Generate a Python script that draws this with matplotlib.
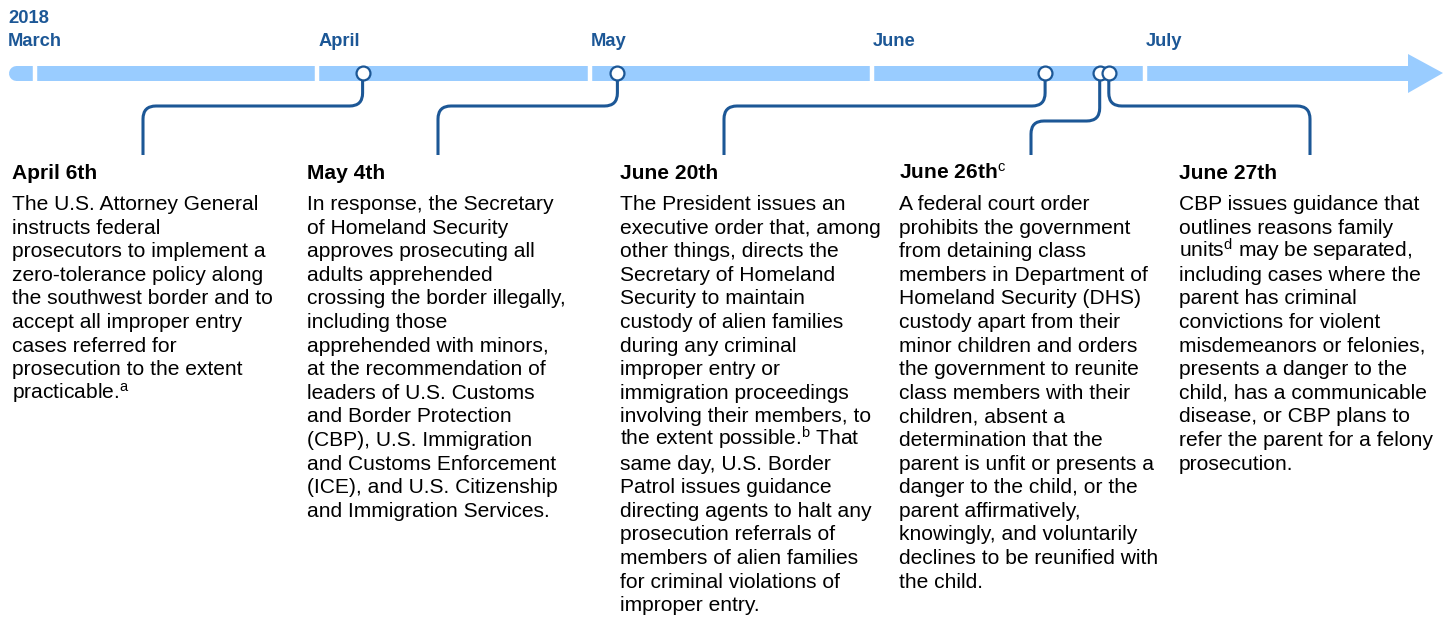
import datetime as dt
import matplotlib.pyplot as plt
import matplotlib.dates as mdates
from matplotlib.path import Path
from matplotlib.patches import PathPatch, Polygon

plt.rcParams['font.family'] = ['Liberation Sans', 'DejaVu Sans']
plt.rcParams['mathtext.fontset'] = 'custom'
plt.rcParams['mathtext.rm'] = 'Liberation Sans'
plt.rcParams['mathtext.it'] = 'Liberation Sans:italic'
plt.rcParams['mathtext.bf'] = 'Liberation Sans:bold'

# --- data ---
year_label = "2018"
month_names = ["March", "April", "May", "June", "July"]
month_starts = [dt.date(2018, 3, 1), dt.date(2018, 4, 1), dt.date(2018, 5, 1),
                dt.date(2018, 6, 1), dt.date(2018, 7, 1)]

event_dates = [dt.date(2018, 4, 6), dt.date(2018, 5, 4), dt.date(2018, 6, 20),
               dt.date(2018, 6, 26), dt.date(2018, 6, 27)]
event_titles = ["April 6th", "May 4th", "June 20th",
                r"June 26th$^{\mathrm{c}}$", "June 27th"]
event_texts = [
    ["The U.S. Attorney General",
     "instructs federal",
     "prosecutors to implement a",
     "zero-tolerance policy along",
     "the southwest border and to",
     "accept all improper entry",
     "cases referred for",
     "prosecution to the extent",
     r"practicable.$^{\mathrm{a}}$"],
    ["In response, the Secretary",
     "of Homeland Security",
     "approves prosecuting all",
     "adults apprehended",
     "crossing the border illegally,",
     "including those",
     "apprehended with minors,",
     "at the recommendation of",
     "leaders of U.S. Customs",
     "and Border Protection",
     "(CBP), U.S. Immigration",
     "and Customs Enforcement",
     "(ICE), and U.S. Citizenship",
     "and Immigration Services."],
    ["The President issues an",
     "executive order that, among",
     "other things, directs the",
     "Secretary of Homeland",
     "Security to maintain",
     "custody of alien families",
     "during any criminal",
     "improper entry or",
     "immigration proceedings",
     "involving their members, to",
     r"the extent possible.$^{\mathrm{b}}$ That",
     "same day, U.S. Border",
     "Patrol issues guidance",
     "directing agents to halt any",
     "prosecution referrals of",
     "members of alien families",
     "for criminal violations of",
     "improper entry."],
    ["A federal court order",
     "prohibits the government",
     "from detaining class",
     "members in Department of",
     "Homeland Security (DHS)",
     "custody apart from their",
     "minor children and orders",
     "the government to reunite",
     "class members with their",
     "children, absent a",
     "determination that the",
     "parent is unfit or presents a",
     "danger to the child, or the",
     "parent affirmatively,",
     "knowingly, and voluntarily",
     "declines to be reunified with",
     "the child."],
    ["CBP issues guidance that",
     "outlines reasons family",
     r"units$^{\mathrm{d}}$ may be separated,",
     "including cases where the",
     "parent has criminal",
     "convictions for violent",
     "misdemeanors or felonies,",
     "presents a danger to the",
     "child, has a communicable",
     "disease, or CBP plans to",
     "refer the parent for a felony",
     "prosecution."],
]

# --- layout (pixels) ---
W, H = 1449, 618
PX_PER_DAY = 9.1
MAR1_PX = 35
text_col_px = [12, 307, 620, 899, 1179]
stem_px = [143, 438, 724, 1031, 1310]
elbow_y = [106, 106, 106, 121, 106]
BAR_Y = 73
STEM_BOTTOM = 155
R = 13

DARK = '#1c5796'
LIGHT = '#99ccff'

origin = mdates.date2num(dt.date(2018, 3, 1))


def px(x):
    return origin + (x - MAR1_PX) / PX_PER_DAY


fig = plt.figure(figsize=(W / 100, H / 100), dpi=100)
ax = fig.add_axes([0, 0, 1, 1])
ax.set_xlim(px(0), px(W))
ax.set_ylim(H, 0)
ax.axis('off')

# timeline bar with arrow head
ax.plot([px(15.5), px(1408)], [BAR_Y, BAR_Y], color=LIGHT, lw=10.8,
        solid_capstyle='round', zorder=1)
ax.add_patch(Polygon([(px(1408), 54), (px(1443), BAR_Y), (px(1408), 93)],
                     closed=True, color=LIGHT, lw=0, zorder=1))

# month separators and labels
mnums = mdates.date2num(month_starts)
for i, (m, name) in enumerate(zip(mnums, month_names)):
    ax.plot([m, m], [63, 83], color='white', lw=3.2, zorder=2,
            solid_capstyle='butt')
    lx = px(8) if i == 0 else m + 1 / PX_PER_DAY
    ax.text(lx, 46, name, color=DARK, fontsize=13.2, fontweight='bold',
            ha='left', va='baseline')
ax.text(px(8), 23, year_label, color=DARK, fontsize=13.2, fontweight='bold',
        ha='left', va='baseline')

# connectors, markers, text
rx = R / PX_PER_DAY
enums = mdates.date2num(event_dates)
for i, xe in enumerate(enums):
    xc = px(stem_px[i])
    ye = elbow_y[i]
    s = 1 if xc > xe else -1
    verts = [(xe, BAR_Y), (xe, ye - R), (xe, ye), (xe + s * rx, ye),
             (xc - s * rx, ye), (xc, ye), (xc, ye + R), (xc, STEM_BOTTOM)]
    codes = [Path.MOVETO, Path.LINETO, Path.CURVE3, Path.CURVE3,
             Path.LINETO, Path.CURVE3, Path.CURVE3, Path.LINETO]
    ax.add_patch(PathPatch(Path(verts, codes), fill=False, edgecolor=DARK,
                           lw=2.2, capstyle='butt', zorder=3))

for i, xe in enumerate(enums):
    ax.plot([xe], [BAR_Y], marker='o', ms=10, mfc='white', mec=DARK,
            mew=1.6, zorder=4 + i)

for i in range(len(event_dates)):
    tx = px(text_col_px[i])
    ax.text(tx, 179, event_titles[i], fontsize=15.1, fontweight='bold',
            color='black', ha='left', va='baseline')
    for j, line in enumerate(event_texts[i]):
        ax.text(tx, 210 + j * 23.6, line, fontsize=15.1, color='black',
                ha='left', va='baseline')

fig.savefig('out.png', dpi=100, facecolor='white')
